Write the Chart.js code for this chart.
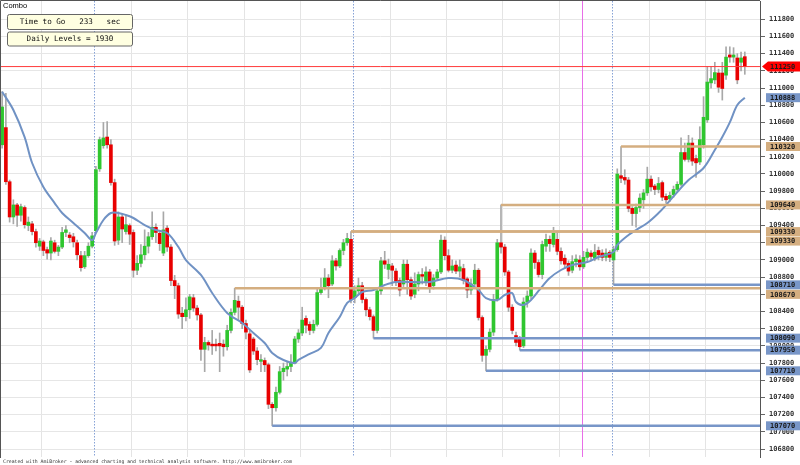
<!DOCTYPE html>
<html>
<head>
<meta charset="utf-8">
<script src="https://cdn.jsdelivr.net/npm/chart.js@4"></script>
<style>
body{margin:0;background:#fff}
canvas{display:block}
</style>
</head>
<body>
<canvas id="c" width="800" height="465"></canvas>
<script>

// 4 minute bars, 0..198
let opens = [110340,110540,109910,109500,109640,109520,109610,109400,109420,109330,109160,109210,109120,109080,109200,109100,109150,109320,109290,109270,
109200,109050,108920,109050,109160,109340,110060,110330,110430,110340,109900,109230,109500,109330,109400,109320,108880,108960,109060,109160,
109270,109380,109310,109080,109370,109150,108760,108700,108380,108340,108420,108560,108440,108360,107960,108040,108020,108020,108030,108020,
107990,108180,108390,108520,108450,108260,108140,108080,107940,107820,107830,107780,107320,107280,107460,107700,107730,107760,107800,108080,
108150,108320,108250,108180,108250,108620,108680,108790,108720,108990,108930,109110,109200,109240,108560,108640,108700,108540,108420,108340,
108180,108640,108990,108890,108930,108870,108760,108720,108950,108770,108600,108720,108830,108750,108860,108700,108790,108860,109230,109050,
108880,108940,108870,108900,108780,108650,108720,108880,108330,107890,107960,108160,108540,109200,109150,108860,108450,108120,108080,108000,
108510,108580,109080,108970,108830,109160,109240,109180,109240,109100,109020,108960,108880,108980,109000,108920,109030,109080,109020,109110,
109080,109030,109090,109000,109120,109980,109960,109930,109600,109540,109610,109700,109780,109940,109860,109820,109900,109740,109710,109760,
109820,109880,110250,110170,110360,110180,110140,110340,110630,111060,111095,111175,111175,111150,111385,111360,111350,111300,111365]

let highs = [110960,110940,109930,109700,109660,109650,109630,109500,109450,109360,109250,109230,109150,109260,109230,109170,109380,109400,109320,109310,
109230,109100,109100,109200,109320,110090,110430,110600,110610,110400,109940,109560,109530,109520,109420,109350,109050,109180,109350,109320,
109560,109420,109340,109560,109400,109180,108820,108730,108450,108560,108600,108600,108470,108380,108100,108060,108180,108080,108150,108070,
108240,108430,108670,108580,108470,108300,108180,108100,107980,107900,107860,107800,107340,107520,107760,107800,107820,107900,108110,108190,
108450,108350,108280,108300,108660,108790,108900,108830,109050,109020,109130,109240,109310,109330,108700,108790,108740,108560,108450,108360,
108680,109030,109100,109010,108960,108900,108790,109000,109000,108800,108850,108860,108900,108920,108890,108830,108890,109290,109270,109120,
109000,108990,109000,108950,108800,108780,108950,108900,108350,108000,108200,108600,109240,109640,109180,108880,108480,108160,108110,108560,
108640,109130,109110,109000,109220,109300,109280,109380,109320,109140,109060,108990,109050,109060,109050,109100,109130,109110,109180,109150,
109120,109130,109110,109160,110060,110320,110050,109960,109620,109650,109770,109820,110080,109980,109880,109960,109920,109770,109790,109860,
109910,110420,110360,110450,110420,110220,110550,110900,111250,111250,111300,111220,111300,111480,111480,111470,111400,111420,111420]

let lows = [110300,109880,109440,109420,109390,109450,109370,109340,109290,109150,109110,109050,109010,109000,109080,109050,109130,109270,109200,109150,
109000,108870,108900,109030,109140,109320,110030,110300,110300,109870,109170,109180,109200,109300,109180,108800,108830,108920,109000,109080,
109240,109200,109110,109050,109100,108700,108550,108320,108200,108290,108320,108400,108300,107830,107700,107950,107900,107940,107700,107880,
107950,108150,108360,108300,108200,108080,107690,107900,107780,107700,107700,107270,107070,107240,107440,107600,107650,107700,107790,108040,
108120,108150,108130,108150,108230,108600,108650,108560,108700,108880,108910,109060,109170,108500,108500,108600,108500,108350,108300,108090,
108150,108600,108900,108780,108700,108700,108580,108690,108600,108540,108560,108640,108720,108700,108620,108660,108760,108840,109000,108860,
108850,108840,108800,108720,108560,108600,108700,108300,107820,107710,107930,108120,108520,109080,108820,108400,108140,108000,107950,107980,
108450,108550,108900,108800,108780,109100,109100,109150,109060,108950,108900,108820,108850,108920,108880,108900,108980,108990,108990,109000,
108990,108990,108980,108710,109100,109900,109880,109560,109400,109380,109560,109600,109750,109800,109760,109780,109690,109660,109680,109730,
109790,109860,110150,110140,110100,109960,110110,110300,110600,111000,111050,110950,110860,111100,111300,111300,111050,111200,111160]

let closes = [110780,109910,109500,109640,109520,109620,109410,109440,109330,109200,109220,109110,109080,109220,109100,109150,109320,109350,109260,109210,
109060,108910,109050,109160,109280,110050,110400,110420,110340,109900,109220,109500,109360,109410,109300,108880,108960,109060,109160,109270,
109380,109320,109190,109350,109150,108760,108700,108370,108340,108420,108570,108440,108360,107960,108040,108010,108000,108000,108000,107990,
108180,108390,108530,108450,108260,108160,107720,107940,107840,107840,107780,107320,107280,107460,107700,107740,107760,107800,108080,108150,
108300,108240,108180,108250,108620,108680,108790,108700,108990,108930,109110,109200,109250,108540,108640,108700,108540,108420,108340,108180,
108640,108990,108950,108950,108880,108750,108650,108950,108770,108580,108720,108830,108810,108860,108690,108790,108860,109230,109050,108880,
108930,108870,108920,108760,108650,108720,108880,108330,107890,107960,108160,108540,109200,109150,108860,108450,108180,108040,107990,108510,
108580,109080,108970,108830,109180,109240,109190,109310,109100,108990,108950,108870,108980,109010,108920,109030,109090,109040,109090,109060,
109030,109080,109030,109120,110000,109950,109930,109600,109540,109610,109720,109780,109940,109850,109820,109890,109730,109700,109750,109820,
109880,110250,110170,110360,110150,110130,110400,110660,111070,111110,111180,111010,110995,111360,111360,111385,111095,111350,111250]

// moving average read at sampled bars
let maBars = [0,3,6,8,11,14,16,19,22,24,25,27,29,31,33,35,38,41,44,47,49,53,56,60,64,67,70,72,75,78,79,82,85,87,90,92,94,96,99,102,105,110,114,119,123,127,129,132,134,136,137,139,141,143,146,149,152,156,159,163,164,167,169,172,175,177,180,183,187,190,192,194,196,198]
let maVals = [110958,110745,110430,110128,109849,109662,109546,109430,109313,109230,109313,109465,109546,109546,109523,109488,109406,109348,109313,109150,108999,108825,108615,108383,108267,108150,108034,107918,107836,107801,107836,107906,107976,108150,108336,108499,108557,108627,108650,108708,108743,108743,108743,108790,108767,108650,108557,108534,108592,108615,108511,108476,108534,108639,108790,108883,108941,108976,109034,109092,109174,109290,109348,109430,109546,109639,109790,109930,110070,110279,110430,110600,110803,110888]

let highLevels = [110320,109640,109330,109330,108670]
let highStarts = [165,133,93,93,62]
let lowLevels = [108710,108090,107950,107710,107070]
let lowStarts = [163,99,138,129,72]

let lastPrice = 111250
let maLast = 110888

let yTicks = [106800,107000,107200,107400,107600,107800,108000,108200,108400,108600,108800,109000,109200,109400,109600,109800,110000,110200,110400,110600,110800,111000,111200,111400,111600,111800]
let hourLines = [10.5,34.5,49.5,64.5,79.5,103.5,118.5,133.5,148.5,172.5,187.5]
let daySeps = [24.5,93.5,162.5]
let markerBar = 154.6

let xMin = -0.3, xMax = 202.05
let yMin = 106707, yMax = 112013

let green = "#2fc62f", red = "#e80000"
let tan = "#d4ae80", blue = "#7896c8"

let bodies = opens.map((o,i)=>({x:i,y:[o,closes[i]]}))
let wicks = opens.map((o,i)=>({x:i,y:[lows[i],highs[i]]}))
let colors = opens.map((o,i)=> closes[i]>=o ? green : red)

let datasets = []

datasets.push({type:"line",data:[{x:xMin,y:lastPrice},{x:xMax,y:lastPrice}],borderColor:"#ff3b3b",borderWidth:1,pointRadius:0,order:0})

highLevels.forEach((lv,k)=>{
datasets.push({type:"line",data:[{x:highStarts[k],y:lv},{x:xMax,y:lv}],borderColor:tan,borderWidth:2.5,pointRadius:0,order:1})
})
lowLevels.forEach((lv,k)=>{
datasets.push({type:"line",data:[{x:lowStarts[k],y:lv},{x:xMax,y:lv}],borderColor:blue,borderWidth:2.5,pointRadius:0,order:1})
})

datasets.push({type:"line",data:maBars.map((b,i)=>({x:b,y:maVals[i]})),borderColor:"#7092c4",borderWidth:2,pointRadius:0,tension:0.35,order:2})

datasets.push({type:"bar",data:bodies,backgroundColor:colors,borderWidth:0,barThickness:3,minBarLength:1,grouped:false,order:3})
datasets.push({type:"bar",data:wicks,backgroundColor:"#a8a8a8",borderWidth:0,barThickness:1,grouped:false,order:4})

// labels on the right axis
let axisLabels = []
axisLabels.push({v:lastPrice,bg:"#ff0000",arrow:true})
axisLabels.push({v:maLast,bg:blue})
highLevels.forEach(v=>axisLabels.push({v:v,bg:tan}))
lowLevels.forEach(v=>axisLabels.push({v:v,bg:blue}))

let overlay = {
id:"overlay",
beforeDatasetsDraw(chart){
let ctx = chart.ctx
let a = chart.chartArea
let x = chart.scales.x
ctx.save()
ctx.lineWidth = 1
ctx.strokeStyle = "#86a2d6"
ctx.setLineDash([1.5,1.5])
daySeps.forEach(v=>{
let px = Math.round(x.getPixelForValue(v))+0.5
ctx.beginPath();ctx.moveTo(px,a.top);ctx.lineTo(px,a.bottom);ctx.stroke()
})
ctx.setLineDash([])
ctx.strokeStyle = "#e86ee8"
let mx = Math.round(x.getPixelForValue(markerBar))+0.5
ctx.beginPath();ctx.moveTo(mx,a.top);ctx.lineTo(mx,a.bottom);ctx.stroke()
ctx.restore()
},
afterDraw(chart){
let ctx = chart.ctx
let a = chart.chartArea
let y = chart.scales.y
ctx.save()

// frame
ctx.strokeStyle = "#555"
ctx.lineWidth = 1
ctx.beginPath()
ctx.moveTo(0.5,a.bottom+1);ctx.lineTo(0.5,0.5);ctx.lineTo(a.right,0.5)
ctx.stroke()

// value boxes
let list = axisLabels.map(l=>({...l,py:y.getPixelForValue(l.v)})).sort((p,q)=>p.py-q.py)
for(let i=1;i<list.length;i++){
if(list[i].py < list[i-1].py+9.5) list[i].py = list[i-1].py+9.5
}
ctx.font = "bold 7px 'DejaVu Sans Mono'"
ctx.textBaseline = "middle"
list.forEach(l=>{
ctx.fillStyle = l.bg
if(l.arrow){
ctx.beginPath()
ctx.moveTo(762,l.py)
ctx.lineTo(768,l.py-5)
ctx.lineTo(800,l.py-5)
ctx.lineTo(800,l.py+5)
ctx.lineTo(768,l.py+5)
ctx.closePath()
ctx.fill()
}else{
ctx.fillRect(766,l.py-4.5,34,9)
}
ctx.fillStyle = "#1a1a1a"
ctx.fillText(String(l.v),770,l.py+0.5)
})

// title
ctx.fillStyle = "#000"
ctx.font = "7.5px 'Liberation Sans'"
ctx.textBaseline = "middle"
ctx.fillText("Combo",3,6)

// info boxes
let boxes = [["Time to Go   233   sec",14,15],["Daily Levels = 1930",31.5,14]]
boxes.forEach(b=>{
ctx.fillStyle = "#ffffe1"
ctx.strokeStyle = "#666"
ctx.lineWidth = 1
ctx.beginPath()
ctx.roundRect(7.5,b[1]+0.5,125,b[2],2)
ctx.fill()
ctx.stroke()
ctx.fillStyle = "#111"
ctx.font = "7.6px 'DejaVu Sans Mono'"
ctx.textAlign = "center"
ctx.fillText(b[0],70,b[1]+b[2]/2+1)
ctx.textAlign = "left"
})

// footer
ctx.fillStyle = "#333"
ctx.font = "4.8px 'DejaVu Sans Mono'"
ctx.textBaseline = "alphabetic"
ctx.fillText("Created with AmiBroker - advanced charting and technical analysis software. http://www.amibroker.com",3,463)
ctx.restore()
}
}

new Chart(document.getElementById("c"),{
type:"bar",
data:{datasets:datasets},
options:{
responsive:false,
animation:false,
devicePixelRatio:1,
layout:{padding:{left:1,top:1,right:0,bottom:8}},
plugins:{legend:{display:false},tooltip:{enabled:false}},
scales:{
x:{
type:"linear",
min:xMin,max:xMax,
offset:false,
afterBuildTicks:s=>{s.ticks = hourLines.map(v=>({value:v}))},
afterFit:s=>{s.height = 0;s.paddingLeft = 0;s.paddingRight = 0},
grid:{color:"#e4e4e4",offset:false,drawTicks:false},
border:{display:false},
ticks:{display:false}
},
y:{
position:"right",
min:yMin,max:yMax,
afterBuildTicks:s=>{s.ticks = yTicks.map(v=>({value:v}))},
afterFit:s=>{s.width = 40;s.paddingTop = 0;s.paddingBottom = 0},
grid:{color:"#e6e6e6",tickColor:"#666",tickLength:5},
border:{color:"#555"},
ticks:{autoSkip:false,padding:4,color:"#333",font:{family:"DejaVu Sans Mono",size:7,weight:"bold"},callback:v=>String(v)}
}
}
},
plugins:[overlay]
})

</script>
</body>
</html>
